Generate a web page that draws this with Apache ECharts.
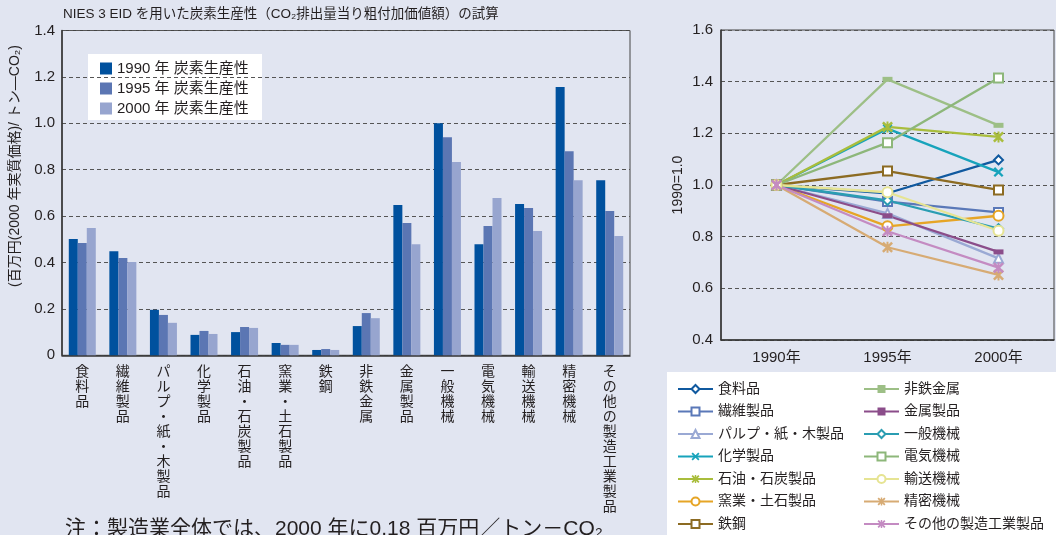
<!DOCTYPE html>
<html>
<head>
<meta charset="utf-8">
<script src="https://cdn.jsdelivr.net/npm/echarts@6/dist/echarts.min.js"></script>
<style>
  html, body { margin: 0; padding: 0; background: #e1e5f1; }
  #chart { width: 1056px; height: 535px; }
</style>
</head>
<body>
<div id="chart"></div>
<script>
// 左: 炭素生産性 (百万円/トン-CO2)
const industries = ['食料品', '繊維製品', 'パルプ・紙・木製品', '化学製品', '石油・石炭製品', '窯業・土石製品', '鉄鋼',
  '非鉄金属', '金属製品', '一般機械', '電気機械', '輸送機械', '精密機械', 'その他の製造工業製品']
const barNames = ['1990 年 炭素生産性', '1995 年 炭素生産性', '2000 年 炭素生産性']
const prod1990 = [0.501, 0.449, 0.196, 0.088, 0.100, 0.053, 0.023, 0.126, 0.648, 1.000, 0.479, 0.652, 1.156, 0.755]
const prod1995 = [0.484, 0.419, 0.174, 0.105, 0.122, 0.045, 0.027, 0.182, 0.570, 0.940, 0.557, 0.635, 0.880, 0.622]
const prod2000 = [0.549, 0.402, 0.140, 0.092, 0.118, 0.045, 0.023, 0.160, 0.479, 0.833, 0.678, 0.536, 0.755, 0.514]

// 右: 1990=1.0 指数
const years = ['1990年', '1995年', '2000年']
const idx1995 = [0.968, 0.936, 0.890, 1.218, 1.225, 0.840, 1.054, 1.409, 0.881, 0.940, 1.164, 0.972, 0.759, 0.821]
const idx2000 = [1.097, 0.894, 0.716, 1.050, 1.186, 0.881, 0.981, 1.231, 0.741, 0.831, 1.414, 0.823, 0.652, 0.680]

const barColors = ['#00519e', '#5b76b3', '#97a5cf']
const lineColors = ['#10599f', '#5a78b8', '#9aa9d4', '#17a3bb', '#a9bd3c', '#e6a526', '#8c6b22',
  '#9dbf86', '#8b4d8a', '#2a9db2', '#8db77a', '#e6e493', '#d7ab74', '#c48bc2']

// マーカー
const CROSS = 'path://M0,1.6L1.6,0L5,3.4L8.4,0L10,1.6L6.6,5L10,8.4L8.4,10L5,6.6L1.6,10L0,8.4L3.4,5Z'
const STAR = 'path://M0,1.6L1.6,0L5,3.4L8.4,0L10,1.6L6.6,5L10,8.4L8.4,10L5,6.6L1.6,10L0,8.4L3.4,5Z M4.1,0L5.9,0L5.9,10L4.1,10Z'
const symbols = ['emptyDiamond', 'emptyRect', 'emptyTriangle', CROSS, STAR, 'emptyCircle', 'emptyRect',
  'rect', 'rect', 'emptyDiamond', 'emptyRect', 'emptyCircle', STAR, STAR]
const symbolSizes = [9, 9, 9, 10, 11, 10, 9, [10, 5], [10, 5], 9, 9, 10, 11, 11]

const font = '"Liberation Sans", "Noto Sans CJK JP", sans-serif'
const textColor = '#231f20'

const chart = echarts.init(document.getElementById('chart'))

const barSeries = barNames.map((name, i) => ({
  name,
  type: 'bar',
  xAxisIndex: 0,
  yAxisIndex: 0,
  data: [prod1990, prod1995, prod2000][i],
  barWidth: 9,
  barGap: '0%',
  itemStyle: { color: barColors[i] },
  emphasis: { disabled: true },
}))

const lineSeries = industries.map((name, i) => ({
  name,
  type: 'line',
  xAxisIndex: 1,
  yAxisIndex: 1,
  data: [1.0, idx1995[i], idx2000[i]],
  symbol: symbols[i],
  symbolSize: symbolSizes[i],
  showAllSymbol: true,
  lineStyle: { width: 2.3, color: lineColors[i] },
  itemStyle: { color: lineColors[i], borderWidth: 2 },
  emphasis: { disabled: true },
}))

const option = {
  backgroundColor: '#e1e5f1',
  animation: false,
  textStyle: { fontFamily: font, color: textColor },
  grid: [
    { left: 62, right: 426, top: 30.5, bottom: 179.7, show: true, borderColor: '#444', borderWidth: 1 },
    { left: 721, right: 2, top: 30, bottom: 195, show: true, borderColor: '#444', borderWidth: 1 },
  ],
  xAxis: [
    {
      gridIndex: 0,
      type: 'category',
      data: industries,
      axisLine: { lineStyle: { color: '#333', width: 1.5 } },
      axisTick: { inside: true, length: 5, lineStyle: { color: '#333' } },
      axisLabel: {
        interval: 0,
        margin: 9,
        fontSize: 14,
        lineHeight: 15,
        color: textColor,
        verticalAlign: 'top',
        formatter: v => v.split('').join('\n'),
      },
    },
    {
      gridIndex: 1,
      type: 'category',
      data: years,
      axisLine: { lineStyle: { color: '#333', width: 1.5 } },
      axisTick: { inside: true, length: 6, lineStyle: { color: '#333' } },
      axisLabel: { fontSize: 15, color: textColor, margin: 10 },
    },
  ],
  yAxis: [
    {
      gridIndex: 0,
      type: 'value',
      min: 0,
      max: 1.4,
      interval: 0.2,
      axisLine: { show: true, lineStyle: { color: '#333', width: 1.5 } },
      axisTick: { show: false },
      axisLabel: {
        fontSize: 15,
        color: textColor,
        margin: 7,
        formatter: v => (v === 0 ? '0' : v.toFixed(1)),
      },
      splitLine: { lineStyle: { color: '#555', type: [4, 3], width: 1 } },
    },
    {
      gridIndex: 1,
      type: 'value',
      min: 0.4,
      max: 1.6,
      interval: 0.2,
      axisLine: { show: true, lineStyle: { color: '#333', width: 1.5 } },
      axisTick: { show: false },
      axisLabel: { fontSize: 15, color: textColor, margin: 8, formatter: v => v.toFixed(1) },
      splitLine: { lineStyle: { color: '#555', type: [4, 3], width: 1 } },
    },
  ],
  legend: [
    {
      data: barNames,
      orient: 'vertical',
      left: 100,
      top: 61,
      padding: 0,
      itemWidth: 12,
      itemHeight: 12,
      itemGap: 5,
      icon: 'rect',
      selectedMode: false,
      textStyle: { fontSize: 15, color: textColor },
    },
    {
      data: industries.slice(0, 7),
      orient: 'vertical',
      left: 677,
      top: 382,
      padding: 0,
      itemWidth: 35,
      itemHeight: 10,
      itemGap: 8.5,
      selectedMode: false,
      textStyle: { fontSize: 14, color: textColor },
    },
    {
      data: industries.slice(7),
      orient: 'vertical',
      left: 863,
      top: 382,
      padding: 0,
      itemWidth: 35,
      itemHeight: 10,
      itemGap: 8.5,
      selectedMode: false,
      textStyle: { fontSize: 14, color: textColor },
    },
  ],
  graphic: [
    { type: 'rect', z: -1, shape: { x: 88, y: 54, width: 174, height: 66 }, style: { fill: '#fff' } },
    { type: 'rect', z: -1, shape: { x: 667, y: 372, width: 389, height: 163 }, style: { fill: '#fff' } },
    {
      type: 'text', left: 63, top: 8,
      style: { text: 'NIES 3 EID を用いた炭素生産性（CO₂排出量当り粗付加価値額）の試算', font: '13.5px ' + font, fill: textColor },
    },
    {
      type: 'text', x: 15, y: 166, rotation: Math.PI / 2,
      style: { text: '(百万円(2000 年実質価格)/ トン—CO₂)', font: '14px ' + font, fill: textColor, align: 'center', verticalAlign: 'middle' },
    },
    {
      type: 'text', x: 678, y: 185, rotation: Math.PI / 2,
      style: { text: '1990=1.0', font: '14px ' + font, fill: textColor, align: 'center', verticalAlign: 'middle' },
    },
    {
      type: 'text', x: 65, y: 519,
      style: { text: '注：製造業全体では、2000 年に0.18 百万円／トン－CO₂', font: '21px ' + font, fill: textColor },
    },
  ],
  series: [...barSeries, ...lineSeries],
}

chart.setOption(option)
</script>
</body>
</html>
